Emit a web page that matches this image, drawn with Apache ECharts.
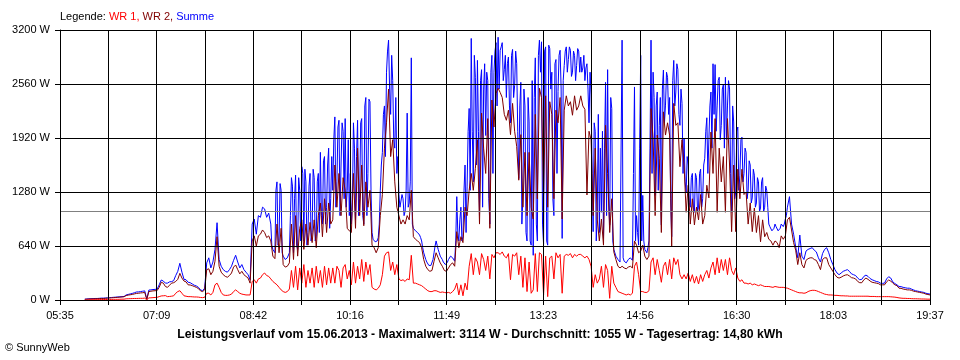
<!DOCTYPE html>
<html><head><meta charset="utf-8">
<script src="https://cdn.jsdelivr.net/npm/echarts@6/dist/echarts.min.js"></script>
<style>html,body{margin:0;padding:0;background:#fff}#c{width:960px;height:360px}</style>
</head><body><div id="c"></div>
<script>
// time axis: minutes since 05:35; samples every STEP minutes starting at T0
const T0 = 24, STEP = 2, T_MAX = 842;
const TIME_LABELS = ['05:35','07:09','08:42','10:16','11:49','13:23','14:56','16:30','18:03','19:37'];
const Y_MAX = 3200, Y_STEP = 640;
const AVERAGE = 1055;

// Summe, read at even sample times (T0 + i*STEP)
const SUMME = [
10,12,14,15,16,18,18,20,22,22,
24,26,28,30,32,34,36,38,40,42,
60,66,72,78,86,95,96,100,104,108,
10,118,120,124,126,128,180,237,225,200,
200,215,218,230,290,340,435,330,245,240,
210,205,190,175,166,150,120,110,140,440,
500,380,450,600,916,480,400,360,340,330,
360,400,470,530,450,380,420,360,330,300,
240,900,960,780,1000,980,1100,1080,980,1030,
900,600,560,1400,700,1300,520,480,500,560,
1450,560,1480,600,1300,1580,700,1400,800,1500,
800,1450,750,1500,1750,900,1700,1100,1800,1200,
1300,2170,1400,2130,1600,2000,2150,1300,1000,900,
2100,950,2130,1200,2150,900,2400,1500,2350,800,
700,680,740,1300,1750,2300,2700,3080,2200,2600,
1800,1500,1250,1100,1200,1050,2215,1150,2870,850,
820,800,770,700,560,480,430,400,420,560,
700,600,520,480,430,420,480,520,500,460,
1225,700,1100,750,1600,1350,2270,3100,1400,2640,
2840,1000,2730,2500,1950,2600,900,2900,2700,3050,
3114,2960,3050,2730,2400,2880,2100,2970,2540,2800,
1440,2580,1210,2300,700,2110,650,530,2870,700,
3080,3060,660,3000,650,2980,2700,1000,2850,2470,
2960,730,2780,3000,2850,2960,2700,2900,2780,2950,
2880,2750,2600,2800,2100,2430,810,2000,1040,800,
1040,730,2580,2730,890,2270,600,520,480,450,
3080,460,440,480,500,470,2525,1000,650,2900,
1240,600,560,700,3080,2700,1240,2465,2070,890,
2725,2310,2640,2400,750,2840,2465,2730,2070,2330,
1920,1280,1600,1100,1500,1040,1450,1100,1550,1200,
1680,2160,1900,2465,2800,2790,2300,2640,2070,2550,
2640,2300,2500,1040,2110,1280,2050,1480,1930,1500,
1750,1300,1600,1210,1480,1150,1400,1090,1450,1100,
1300,900,850,800,900,850,800,900,870,960,
1100,1225,900,780,630,500,770,520,480,580,
600,610,620,590,570,500,450,550,600,620,
560,480,420,360,320,300,320,340,350,360,
340,310,300,290,260,240,245,280,295,280,
255,240,230,220,215,200,197,200,250,276,
260,215,195,180,160,158,150,145,140,140,
130,120,110,105,100,95,90,80,75,70
];

// Summe, extra readings in the busy hours, at the odd minutes (T0 + i*STEP + 1), i from ODD_FROM
const ODD_FROM = 90;
const SUMME_ODD = [
650,580,1300,650,1380,560,500,470,520,1000,
1350,1200,650,1450,700,1500,1550,650,1350,700,
1550,700,1400,800,1000,1650,900,1600,850,1700,
1900,1100,2050,1000,2100,1200,1100,1900,1500,1150,
1800,1700,1000,2100,1000,2300,1000,2380,1300,720,
690,700,900,1600,2200,1700,2950,2500,2900,1900,
2400,1700,1100,1250,1000,1300,1100,1400,900,830,
810,790,740,620,520,450,410,410,480,640,
650,560,500,450,420,450,500,510,480,700,
800,950,700,1300,800,2000,1300,2000,2900,1600,
2000,2600,1100,2800,2700,1200,2700,1500,2950,2300,
2500,3000,2600,2900,2800,2300,2900,2400,2950,2000,
2300,900,2500,800,2400,700,2600,2400,900,2900,
2700,900,2950,700,3020,2500,1200,2800,1500,2900,
2500,2600,2950,2700,3000,2650,2950,2600,2980,2700,
2700,2900,2750,2500,2700,1500,2100,700,2200,1800,
2000,1800,1000,1200,2400,700,560,500,460,460,
500,450,460,490,480,1500,700,800,1800,700,
700,580,620,1800,1500,2400,2300,1300,2400,2500,
2100,2700,2200,1200,2600,2300,2800,2200,2500,1500,
1400,1700,1150,1450,1100,1500,1050,1500,1100,1600,
2000,1500,2300,1800,2200,2000,2600,1900,2500,1800,
1900,2600,1500,2300,1200,2000,1300,1900,1400,1800,
1200,1650,1150,1550,1100,1450,1050,1400,1050,1350,
1100,870,820,850,870,820,850,880,900,1000
];

const WR2 = [
8,10,12,13,14,15,16,17,18,18,
20,22,24,26,28,30,32,34,36,38,
52,58,62,66,72,78,80,84,86,90,
8,100,104,108,110,112,150,210,200,160,
150,175,200,205,220,245,316,260,225,215,
180,178,170,160,150,135,108,100,120,360,
370,300,340,460,750,400,330,300,280,270,
290,320,390,415,360,310,340,300,280,260,
200,700,760,640,760,780,830,800,740,760,
700,520,490,900,560,850,420,390,400,440,
900,480,1000,520,850,950,600,900,650,920,
680,950,620,1000,1150,750,1200,800,1150,900,
950,1600,1100,1500,1000,1450,1300,850,820,800,
1500,850,1800,1000,1600,880,1400,1100,1300,650,
620,560,620,1000,1250,1800,2100,2500,1700,1900,
1400,1100,1000,900,950,900,1000,950,1300,750,
720,700,680,620,480,400,360,340,350,460,
560,500,440,400,350,340,380,420,440,400,
810,620,750,680,1100,1000,1300,1500,1300,1560,
1900,900,2215,1800,1500,2150,850,2370,2050,2450,
2510,2460,2400,2200,2130,2250,1960,2330,2000,1820,
1420,1960,1100,1750,1000,1750,1100,960,2200,1200,
2510,2400,1250,2420,1100,2350,2200,1200,2250,2100,
2400,960,2250,2420,2300,2350,2190,2420,2250,2300,
2420,2300,2260,1245,2000,1900,1000,1800,950,700,
960,650,2070,1500,800,1200,570,480,400,380,
400,380,370,390,400,380,700,650,560,580,
650,520,480,520,2270,1920,1000,1955,1680,800,
2230,1955,2100,1955,630,2330,2070,2100,1580,1900,
1600,1040,1360,900,1200,890,1100,950,1250,900,
1000,1360,1210,1990,1500,2150,1040,1800,1400,1700,
1040,2150,1600,810,1600,810,1550,1200,1550,1250,
1280,900,1150,810,1090,800,1000,690,950,750,
800,720,700,650,700,680,620,760,720,760,
950,980,830,680,590,420,560,420,380,470,
490,500,500,480,470,420,360,480,500,500,
420,380,340,300,270,260,270,285,295,300,
285,265,260,250,220,205,205,240,260,245,
225,210,205,200,195,180,180,180,215,237,
225,200,180,170,140,138,130,125,120,120,
115,105,100,95,90,85,80,70,65,60
];

const WR1 = [
0,0,2,3,3,4,4,5,5,6,
6,6,7,7,8,8,8,9,10,10,
14,15,16,17,18,18,19,20,20,22,
2,25,26,28,30,32,40,48,50,52,
40,42,45,50,80,100,110,80,50,45,
40,40,38,36,36,34,30,28,32,80,
80,60,90,180,200,150,90,60,55,55,
60,70,100,120,100,80,70,65,60,60,
60,220,240,200,250,260,300,320,290,280,
250,220,200,180,150,120,100,90,100,130,
350,150,400,120,380,200,420,150,350,200,
380,150,400,200,350,150,400,180,380,200,
380,200,400,350,150,380,420,250,350,180,
450,200,400,250,480,220,450,300,420,150,
130,120,140,180,300,520,560,570,350,450,
300,420,250,230,240,220,250,240,530,200,
200,190,180,170,150,130,110,100,100,110,
110,100,90,95,90,85,90,80,100,130,
200,60,180,50,200,120,400,550,300,500,
450,300,550,480,350,520,250,540,500,560,
560,540,570,520,500,550,240,540,520,560,
300,520,150,500,100,450,80,120,550,100,
560,540,60,520,40,500,520,250,560,500,
540,80,520,540,530,550,500,540,520,540,
540,520,500,520,480,400,150,300,200,250,
400,150,420,350,20,400,200,150,100,90,
80,70,60,70,60,80,400,450,300,100,
100,90,90,110,450,500,300,480,350,210,
400,450,300,480,250,500,420,480,300,250,
300,250,320,220,300,200,280,190,300,220,
300,350,260,380,450,300,500,320,480,350,
480,300,500,350,300,380,260,220,240,200,
200,190,200,180,190,180,170,180,170,160,
160,160,155,150,160,155,150,150,150,145,
140,130,120,110,100,90,85,85,80,85,
100,110,115,115,110,100,90,80,70,65,
60,60,58,55,55,52,50,50,48,48,
45,45,45,45,45,45,45,45,45,45,
42,42,42,40,40,40,40,40,40,40,
38,36,34,30,25,22,20,20,18,18,
16,15,15,14,13,12,12,11,10,10
];

const toPairs = arr => arr.map((v, i) => [T0 + i * STEP, v]);
function withOdd(even, odd, from) {
  const out = [];
  even.forEach((v, i) => {
    out.push([T0 + i * STEP, v]);
    const k = i - from;
    if (k >= 0 && k < odd.length) out.push([T0 + i * STEP + 1, odd[k]]);
  });
  return out;
}
const FONT = '"Liberation Sans", Arial, sans-serif';
const xInterval = T_MAX / 18;

const chart = echarts.init(document.getElementById('c'), null, {renderer: 'canvas'});

function lineSeries(name, pairs, color, z) {
  return {
    name: name, type: 'line', data: pairs, z: z,
    showSymbol: false, symbol: 'none',
    lineStyle: {color: color, width: 1}, itemStyle: {color: color},
    silent: true, animation: false
  };
}

chart.setOption({
  animation: false,
  backgroundColor: '#ffffff',
  title: [
    {
      left: 60, top: 11, padding: 0,
      text: '{k|Legende: }{a|WR 1, }{b|WR 2, }{c|Summe}',
      textStyle: {
        fontSize: 11, fontFamily: FONT, fontWeight: 'normal',
        rich: {
          k: {color: '#000000', fontSize: 11, fontFamily: FONT},
          a: {color: '#ff0000', fontSize: 11, fontFamily: FONT},
          b: {color: '#800000', fontSize: 11, fontFamily: FONT},
          c: {color: '#0000ff', fontSize: 11, fontFamily: FONT}
        }
      }
    },
    {
      left: 'center', top: 329, padding: 0,
      text: 'Leistungsverlauf vom 15.06.2013 - Maximalwert: 3114 W - Durchschnitt: 1055 W - Tagesertrag: 14,80 kWh',
      textStyle: {fontSize: 12.2, fontWeight: 'bold', fontFamily: FONT, color: '#000000'}
    },
    {
      left: 5, top: 342, padding: 0,
      text: '© SunnyWeb',
      textStyle: {fontSize: 11, fontWeight: 'normal', fontFamily: FONT, color: '#000000'}
    }
  ],
  grid: {left: 60, right: 30, top: 30, bottom: 60},
  xAxis: {
    type: 'value', min: 0, max: T_MAX, interval: xInterval, z: 10,
    axisLine: {lineStyle: {color: '#000000', width: 1}},
    axisTick: {show: true, length: 5, lineStyle: {color: '#000000', width: 1}},
    splitLine: {show: true, lineStyle: {color: '#000000', width: 1}},
    axisLabel: {
      margin: 10, color: '#000000', fontSize: 11, fontFamily: FONT,
      showMinLabel: true, showMaxLabel: true,
      formatter: function (v) {
        const k = Math.round(v / xInterval);
        return k % 2 === 0 ? (TIME_LABELS[k / 2] || '') : '';
      }
    }
  },
  yAxis: {
    type: 'value', min: 0, max: Y_MAX, interval: Y_STEP, z: 10,
    axisLine: {show: true, lineStyle: {color: '#000000', width: 1}},
    axisTick: {show: true, length: 5, lineStyle: {color: '#000000', width: 1}},
    splitLine: {show: true, lineStyle: {color: '#000000', width: 1}},
    axisLabel: {
      margin: 10, color: '#000000', fontSize: 11, fontFamily: FONT,
      formatter: function (v) { return String(v) + ' W'; }
    }
  },
  series: [
    {
      name: 'avg', type: 'line', data: [], z: 1, silent: true,
      markLine: {
        silent: true, symbol: 'none', animation: false,
        label: {show: false},
        lineStyle: {color: '#808080', width: 1, type: 'solid'},
        data: [{yAxis: AVERAGE}]
      }
    },
    lineSeries('Summe', withOdd(SUMME, SUMME_ODD, ODD_FROM), '#0000ff', 2),
    lineSeries('WR 2', toPairs(WR2), '#800000', 3),
    lineSeries('WR 1', toPairs(WR1), '#ff0000', 4)
  ]
});
</script>
</body></html>
